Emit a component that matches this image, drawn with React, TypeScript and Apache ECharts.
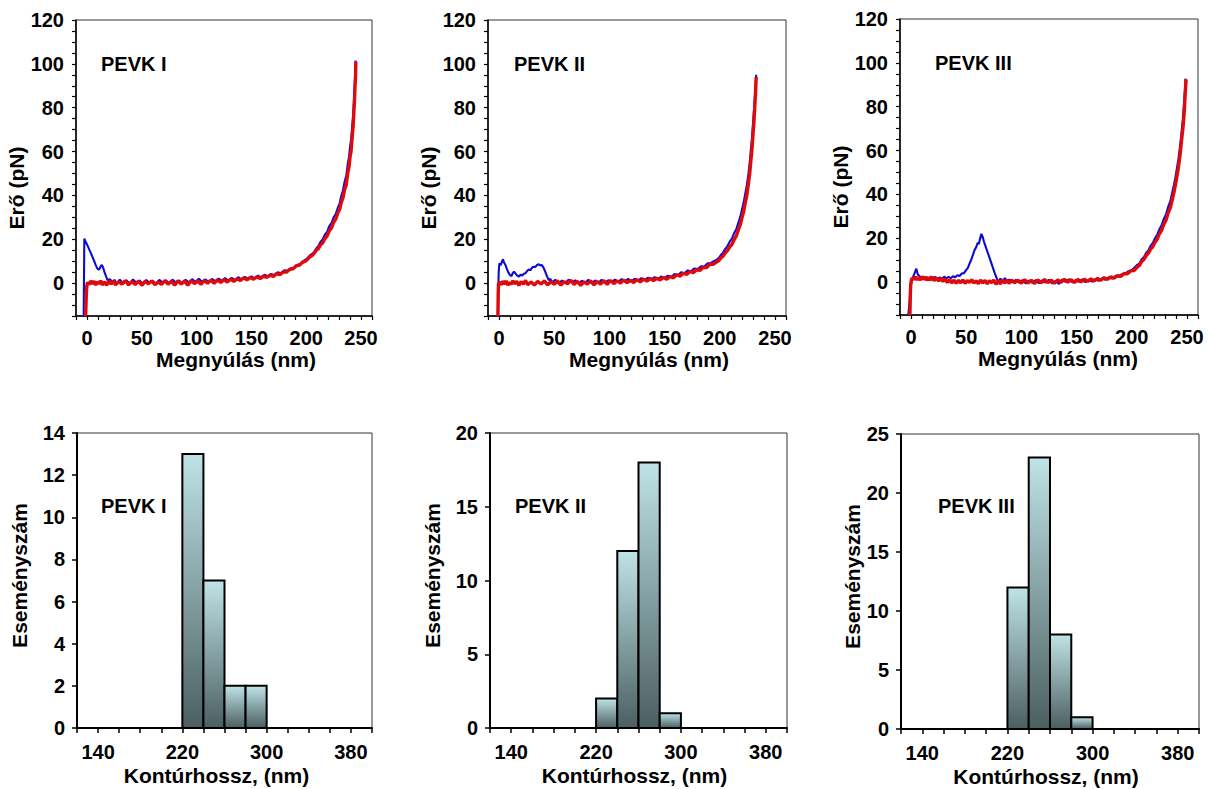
import React, { useEffect, useRef } from "react";
import * as echarts from "echarts";

// ---------------- DATA ----------------
const panelTitles = ["PEVK I", "PEVK II", "PEVK III"];

// Force–extension traces (x: nm, y: pN)
const pevk1Blue: number[][] = [
  [-3, -15], [-2.7, 2], [-2.4, 20.3], [-1, 18.6], [0.5, 17.2], [2, 15.4], [3.5, 13.8], [5, 12], [6.5, 10.1], [8, 8.2],
  [9.5, 6.6], [11, 6.1], [12.5, 7.6], [13.5, 8.3], [14.5, 7.4], [16, 5], [17.5, 3], [19, 1.2], [21, 1.8], [23, 0.3],
  [25, 1.5], [27, -0.2], [30, 1.6], [33, 0], [36, 1.3], [39, -0.3], [42, 1.7], [45, 0.2], [48, 1.2], [51, -0.4],
  [54, 1.4], [57, 0.1], [60, 1.1], [63, -0.3], [66, 1.5], [69, 0.2], [72, 1.3], [75, -0.2], [78, 1.6], [81, 0.3],
  [84, 1.2], [87, -0.1], [90, 1.5], [93, 0.4], [96, 1.8], [99, 0.5], [102, 2], [105, 0.6], [108, 1.7], [111, 0.5],
  [114, 1.9], [117, 0.8], [120, 2.1], [123, 1], [126, 2.3], [129, 1.1], [132, 2.4], [135, 1.4], [138, 2.7], [141, 1.6],
  [144, 2.9], [147, 1.9], [150, 3.1], [153, 2.2], [156, 3.4], [159, 2.6], [162, 3.8], [165, 3], [168, 4.2], [171, 3.6],
  [174, 4.9], [177, 4.5], [180, 5.8], [183, 5.6], [186, 6.8], [189, 7], [192, 8.3], [195, 8.9], [198, 10.3], [201, 11.3],
  [204, 12.9], [207, 13.9], [209, 15.7], [211, 16.8], [213, 18.8], [215, 19.9], [217, 22.1], [219, 23.3], [221, 26], [223, 27.3],
  [225, 30], [227, 31.6], [229, 34.6], [230.5, 36.4], [232, 39.8], [233.5, 42.2], [235, 46.2], [236.5, 48.9], [238, 54.6], [239, 57.4],
  [240, 62.4], [241, 65.6], [242, 72], [242.8, 76.5], [243.5, 83], [244, 87.6], [244.5, 94], [245, 101.5],
];
const pevk1Red: number[][] = [
  [-1.2, -15], [-0.7, -7], [-0.2, -1.5], [0.5, 0.4], [2, -0.7], [3.5, 1], [5, -0.4], [6.5, 0.9], [8, -0.9], [9.5, 0.6],
  [11, -0.3], [12.5, 1.1], [14, -0.8], [16, 0.5], [18, -1], [20, 0.9], [22, -0.4], [24, 1], [26, -0.8], [29, 0.6],
  [32, -0.5], [35, 1.1], [38, -0.8], [41, 0.7], [44, -0.6], [47, 0.9], [50, -1], [53, 0.8], [56, -0.3], [59, 1],
  [62, -0.7], [65, 0.5], [68, -0.6], [71, 1.1], [74, -0.5], [77, 0.8], [80, -0.9], [83, 1], [86, -0.4], [89, 0.9],
  [92, -1], [95, 1.1], [98, -0.2], [101, 1], [104, -0.6], [107, 1.2], [110, 0], [113, 1.3], [116, -0.1], [119, 1.4],
  [122, 0.3], [125, 1.6], [128, 0.5], [131, 1.8], [134, 0.8], [137, 2], [140, 1.2], [143, 2.4], [146, 1.5], [149, 2.6],
  [152, 1.8], [155, 2.9], [158, 2.1], [161, 3.2], [164, 2.6], [167, 3.6], [170, 3.1], [173, 4.3], [176, 3.9], [179, 5.1],
  [182, 5], [185, 6.3], [188, 6.5], [191, 7.9], [194, 8.2], [197, 9.6], [200, 10.2], [203, 11.9], [206, 12.8], [209, 14.9],
  [211, 15.6], [213, 17.4], [215, 18.3], [217, 20.3], [219, 21.4], [221, 23.8], [223, 25.1], [225, 27.8], [227, 29.2], [229, 32.2],
  [230.5, 33.6], [232, 36.8], [233.5, 38.9], [235, 42.6], [236.5, 44.8], [238, 50.5], [239, 52.8], [240, 57.6], [241, 60.4], [242, 67.2],
  [242.8, 71.5], [243.5, 78.4], [244, 82.6], [244.5, 89.5], [245, 94.2], [245.3, 101],
];

const pevk2Blue: number[][] = [
  [-1, -15], [-0.7, -4], [-0.3, 5], [0.3, 9], [1.5, 8.2], [2.5, 9.6], [3.6, 10.9], [4.5, 9.4], [5.8, 8.3], [7, 6.6],
  [8.5, 4.8], [10, 3.6], [11.3, 3.2], [12.5, 4.6], [13.6, 5.2], [15, 4.3], [16.5, 3.4], [18, 3], [19.5, 3.8], [21, 3.5],
  [22.5, 4.3], [24, 4.5], [25.5, 5.6], [27, 6.2], [28.5, 5.9], [30, 7.1], [31.5, 7.5], [33, 7.4], [34.5, 8.3], [36, 8.6],
  [37.5, 8.1], [39, 8.2], [40.5, 6.8], [42, 5], [43.5, 3.1], [45, 1.4], [46.5, 1.9], [48, 0.4], [51, 1.5], [54, -0.2],
  [57, 1.2], [60, 0], [63, 1.6], [66, 0.2], [69, 1.3], [72, -0.3], [75, 1.1], [78, 0.1], [81, 1.5], [84, -0.1],
  [87, 1.2], [90, 0.2], [93, 1.5], [96, 0.1], [99, 1.3], [102, 0.4], [105, 1.6], [108, 0.5], [111, 1.8], [114, 0.7],
  [117, 1.9], [120, 0.9], [123, 2], [126, 1.1], [129, 2.3], [132, 1.3], [135, 2.5], [138, 1.6], [141, 2.7], [144, 1.8],
  [147, 3], [150, 2.2], [153, 3.4], [156, 2.7], [159, 4.2], [162, 3.6], [165, 5], [168, 4.5], [171, 5.8], [174, 5.4],
  [177, 6.7], [180, 6.4], [183, 7.7], [186, 7.6], [189, 9], [192, 9.2], [195, 10.1], [197, 10.6], [199, 11.4], [201, 12.8],
  [203, 13.9], [205, 15.6], [207, 16.9], [209, 18.9], [211, 20.3], [213, 22.8], [215, 24.6], [217, 27.8], [218.5, 30.1], [220, 33.4],
  [221.5, 36.5], [223, 40.6], [224.5, 44.5], [226, 50], [227, 54.4], [228, 60], [229, 65], [230, 72], [231, 79], [231.8, 85],
  [232.5, 90], [233, 95],
];
const pevk2Red: number[][] = [
  [-1, -15], [-0.8, -6], [-0.5, -0.5], [0.5, 0.6], [2, -0.8], [3.5, 0.9], [5, -0.5], [6.5, 1], [8, -0.9], [9.5, 0.4],
  [11, -0.6], [12.5, 1.1], [14, -0.3], [16, 0.8], [18, -1], [20, 0.7], [22, -0.4], [24, 1.2], [26, -0.7], [29, 0.5],
  [32, -0.9], [35, 0.8], [38, -0.4], [41, 1], [44, -0.8], [47, 0.6], [50, -0.5], [53, 1], [56, -0.9], [59, 0.7],
  [62, -0.3], [65, 1.3], [68, -0.6], [71, 0.8], [74, -1], [77, 0.6], [80, -0.4], [83, 1], [86, -0.8], [89, 0.7],
  [92, -0.5], [95, 1.1], [98, -0.6], [101, 1.2], [104, -0.2], [107, 1], [110, 0], [113, 1.4], [116, 0.2], [119, 1.2],
  [122, 0.3], [125, 1.6], [128, 0.6], [131, 1.8], [134, 0.9], [137, 2.1], [140, 1.2], [143, 2.2], [146, 1.4], [149, 2.6],
  [152, 1.8], [155, 3], [158, 2.4], [161, 3.8], [164, 3.2], [167, 4.5], [170, 4], [173, 5.3], [176, 4.8], [179, 6.1],
  [182, 5.8], [185, 7.2], [188, 7.1], [191, 8.6], [194, 8.6], [197, 9.6], [199, 10.2], [201, 11.5], [203, 12.3], [205, 13.8],
  [207, 14.8], [209, 16.5], [211, 17.6], [213, 19.8], [215, 21.5], [217, 24.5], [218.5, 26.6], [220, 29.6], [221.5, 32.4], [223, 36.4],
  [224.5, 40], [226, 45.5], [227, 49.5], [228, 55], [229, 60], [230, 67], [231, 74], [231.8, 81], [232.5, 88], [233, 94],
];

const pevk3Blue: number[][] = [
  [-2.5, -15], [-1.5, -10], [-0.5, -3], [0.3, -0.5], [1.2, 1.5], [2.5, 3.2], [3.7, 4.6], [4.6, 6.1], [5.3, 5.2], [6.2, 3.4],
  [7.4, 2.9], [9, 1.6], [10.5, 2.4], [12, 1.2], [14, 2.3], [16, 1.4], [18, 2.6], [20, 1.5], [22, 2.4], [24, 1.3],
  [26, 2.2], [28, 1.4], [30, 2.5], [32, 1.6], [34, 2.4], [36, 1.8], [38, 2.7], [40, 2.2], [42, 3.1], [44, 2.8],
  [46, 3.9], [48, 4.1], [50, 5.6], [51.5, 6.5], [53, 8.4], [54.5, 10.2], [56, 12.3], [57.5, 14.6], [59, 15.9], [60.5, 18],
  [61.5, 17.4], [62.5, 19.8], [63.7, 22], [64.5, 21.2], [66, 18.6], [68, 15.6], [70, 12.7], [72, 9.8], [74, 6.8], [76, 3.9],
  [78, 1.2], [79.5, 0.2], [81, 1.6], [83, 0.5], [85, 1.8], [87, 0.3], [89, 1.2], [92, -0.2], [95, 1], [98, -0.3],
  [101, 0.9], [104, -0.6], [107, 0.7], [110, -0.4], [113, 0.9], [116, -0.5], [119, 0.8], [122, -0.2], [125, 1], [128, -0.6],
  [131, 0.6], [134, -0.8], [137, 1.2], [140, 0.1], [143, 1.3], [146, -0.1], [149, 0.9], [152, 0.2], [155, 1.2], [158, 0],
  [161, 1], [164, 0.2], [167, 1.4], [170, 0.6], [173, 1.7], [176, 1], [179, 2.2], [182, 1.6], [185, 2.8], [188, 2.5],
  [191, 3.6], [194, 3.7], [197, 5], [200, 5.4], [203, 6.9], [205, 7.9], [207, 8.6], [209, 10.4], [211, 11.4], [213, 13.3],
  [215, 14.4], [217, 16.5], [219, 17.8], [221, 20], [223, 21.6], [225, 24.1], [227, 25.9], [229, 28.8], [231, 30.9], [233, 34.4],
  [235, 37], [236.5, 40.4], [238, 43.8], [239.5, 47.7], [241, 52.2], [242.3, 56.3], [243.5, 61], [244.5, 65.5], [245.5, 70.5], [246.3, 74.5],
  [247, 79], [247.7, 84], [248.3, 89], [248.7, 92.8],
];
const pevk3Red: number[][] = [
  [-1, -15], [-0.7, -7], [-0.3, -1], [0.3, 0.8], [1, 1.9], [2.5, 1.1], [4, 2.4], [5.5, 1], [7, 2.2], [8.5, 0.9],
  [10, 2.6], [11.5, 1.2], [13, 2.3], [14.5, 0.8], [16, 2.1], [17.5, 0.9], [19, 2.4], [21, 0.7], [23, 1.9], [25, 0.5],
  [27, 1.8], [29, 0.3], [31, 1.5], [33, -0.2], [35, 1.1], [37, -0.4], [39, 0.9], [41, -0.5], [43, 0.8], [45, -0.3],
  [47, 1], [49, -0.6], [51, 0.7], [53, -0.2], [55, 1.1], [57, -0.5], [59, 0.6], [61, -0.7], [63, 0.9], [65, -0.4],
  [67, 0.8], [69, -0.8], [71, 0.6], [73, -0.3], [75, 0.9], [77, -1], [79, 0.7], [81, -0.9], [83, 1.1], [85, -0.4],
  [87, 0.8], [89, -0.6], [91, 1], [94, -0.3], [97, 0.9], [100, -0.5], [103, 1.1], [106, -0.4], [109, 0.8], [112, -0.6],
  [115, 1], [118, -0.3], [121, 1.2], [124, -0.2], [127, 0.9], [130, -0.5], [133, 1], [136, -0.1], [139, 1.3], [142, 0],
  [145, 1.1], [148, -0.2], [151, 1.2], [154, 0.1], [157, 1.3], [160, 0.3], [163, 1.5], [166, 0.5], [169, 1.7], [172, 0.9],
  [175, 2], [178, 1.3], [181, 2.4], [184, 1.8], [187, 3], [190, 2.6], [193, 3.9], [196, 3.8], [199, 5.1], [202, 5.3],
  [205, 6.9], [207, 7.6], [209, 9.4], [211, 10.3], [213, 12.1], [215, 13.1], [217, 15], [219, 16.1], [221, 18.2], [223, 19.6],
  [225, 22], [227, 23.6], [229, 26.3], [231, 28.2], [233, 31.6], [235, 34], [236.5, 37.2], [238, 40.5], [239.5, 44.2], [241, 48.5],
  [242.3, 52.5], [243.5, 57], [244.5, 61.5], [245.5, 66.5], [246.3, 70], [247, 74], [247.7, 79], [248.3, 85], [248.8, 89], [249.2, 92.5],
];

const blueTraces = [pevk1Blue, pevk2Blue, pevk3Blue];
const redTraces = [pevk1Red, pevk2Red, pevk3Red];

// Histograms: contour length bins (nm) and event counts
const binStarts = [220, 240, 260, 280];
const binEnds = [240, 260, 280, 300];
const countsPevk1 = [13, 7, 2, 2];
const countsPevk2 = [2, 12, 18, 1];
const countsPevk3 = [12, 23, 8, 1];
const histCounts = [countsPevk1, countsPevk2, countsPevk3];
const histYMax = [14, 20, 25];
const histYStep = [2, 5, 5];

// Axis tick labels
const forceXLabels = [0, 50, 100, 150, 200, 250];
const forceYLabels = [0, 20, 40, 60, 80, 100, 120];
const lengthXLabels = [140, 220, 300, 380];

// ---------------- LAYOUT ----------------
const FONT = '"Liberation Sans", Arial, Helvetica, sans-serif';
const topGrids = [
  { left: 76, top: 20, width: 296, height: 296 },
  { left: 488, top: 20, width: 298, height: 296 },
  { left: 900, top: 19, width: 298, height: 296 },
];
const bottomGrids = [
  { left: 77, top: 433, width: 295, height: 295 },
  { left: 490, top: 433, width: 297, height: 295 },
  { left: 901, top: 434, width: 298, height: 295 },
];
const topYNameGap = [45, 41, 38];
const topXShift = [12, 12, 9];
const botYNameGap = [47, 47, 38];
const botXShift = [-8, -4, -4];
const topLabelPos = [[101, 64], [514, 64], [935, 63]];
const botLabelPos = [[101, 506], [515, 506], [938, 506]];

const BLUE = "#0b0bd4";
const RED = "#e00a0a";

function shiftPad(s: number): number[] {
  return s >= 0 ? [0, 0, 0, 2 * s] : [0, -2 * s, 0, 0];
}

function buildOption(): any {
  const grid: any[] = [];
  const xAxis: any[] = [];
  const yAxis: any[] = [];
  const series: any[] = [];
  const graphic: any[] = [];

  const labelStyle = { fontFamily: FONT, fontWeight: "bold", fontSize: 20, color: "#000" };
  const nameStyle = { fontFamily: FONT, fontWeight: "bold", fontSize: 21, color: "#000" };

  // top row
  for (let i = 0; i < 3; i++) {
    grid.push({ ...topGrids[i], show: true, borderColor: "#333", borderWidth: 1, backgroundColor: "transparent" });
    xAxis.push({
      type: "value", gridIndex: i, min: -10, max: 260, interval: 10,
      axisLine: { show: true, onZero: false, lineStyle: { color: "#000", width: 1.5 } },
      axisTick: { show: true, length: 4, lineStyle: { color: "#000", width: 1.2 } },
      splitLine: { show: false },
      axisLabel: { ...labelStyle, margin: 12, formatter: (v: number) => (forceXLabels.includes(v) ? String(v) : "") },
      name: "Megnyúlás (nm)", nameLocation: "middle", nameGap: 31,
      nameTextStyle: { ...nameStyle, padding: shiftPad(topXShift[i]) },
    });
    yAxis.push({
      type: "value", gridIndex: i, min: -15, max: 120, interval: 5,
      axisLine: { show: true, onZero: false, lineStyle: { color: "#000", width: 1.5 } },
      axisTick: { show: true, length: 4, lineStyle: { color: "#000", width: 1.2 } },
      splitLine: { show: false },
      axisLabel: { ...labelStyle, margin: 12, formatter: (v: number) => (forceYLabels.includes(v) ? String(v) : "") },
      name: "Erő (pN)", nameLocation: "middle", nameGap: topYNameGap[i],
      nameTextStyle: { ...nameStyle, padding: [0, 40, 0, 0] },
    });
    series.push({
      type: "line", xAxisIndex: i, yAxisIndex: i, data: blueTraces[i], showSymbol: false, symbol: "none",
      lineStyle: { color: BLUE, width: 2.1 }, z: 2, silent: true,
    });
    series.push({
      type: "line", xAxisIndex: i, yAxisIndex: i, data: redTraces[i], showSymbol: false, symbol: "none",
      lineStyle: { color: RED, width: 3.4 }, z: 3, silent: true,
    });
    graphic.push({
      type: "text", x: topLabelPos[i][0], y: topLabelPos[i][1], z: 10,
      style: { text: panelTitles[i], font: `bold 20px ${FONT}`, fill: "#000", verticalAlign: "middle", align: "left" },
    });
  }

  // bottom row
  for (let i = 0; i < 3; i++) {
    const gi = 3 + i;
    grid.push({ ...bottomGrids[i], show: true, borderColor: "#333", borderWidth: 1, backgroundColor: "transparent" });
    xAxis.push({
      type: "value", gridIndex: gi, min: 120, max: 400, interval: 20,
      axisLine: { show: true, onZero: false, lineStyle: { color: "#000", width: 2 } },
      axisTick: { show: true, length: 5, lineStyle: { color: "#000", width: 1.5 } },
      splitLine: { show: false },
      axisLabel: { ...labelStyle, margin: 14, formatter: (v: number) => (lengthXLabels.includes(v) ? String(v) : "") },
      name: "Kontúrhossz, (nm)", nameLocation: "middle", nameGap: 37,
      nameTextStyle: { ...nameStyle, padding: shiftPad(botXShift[i]) },
    });
    yAxis.push({
      type: "value", gridIndex: gi, min: 0, max: histYMax[i], interval: histYStep[i],
      axisLine: { show: true, onZero: false, lineStyle: { color: "#000", width: 2 } },
      axisTick: { show: true, length: 5, lineStyle: { color: "#000", width: 1.5 } },
      splitLine: { show: false },
      axisLabel: { ...labelStyle, margin: 12 },
      name: "Eseményszám", nameLocation: "middle", nameGap: botYNameGap[i],
      nameTextStyle: { ...nameStyle, padding: [0, 0, 0, 10] },
    });
    const data = binStarts.map((s, k) => [s, binEnds[k], histCounts[i][k]]);
    series.push({
      type: "custom", xAxisIndex: gi, yAxisIndex: gi, data, silent: true,
      encode: { x: [0, 1], y: 2 },
      renderItem: (_p: any, api: any) => {
        const tl = api.coord([api.value(0), api.value(2)]);
        const br = api.coord([api.value(1), 0]);
        return {
          type: "rect",
          shape: { x: tl[0], y: tl[1], width: br[0] - tl[0], height: br[1] - tl[1] },
          style: {
            fill: new echarts.graphic.LinearGradient(0, 0, 0, 1, [
              { offset: 0, color: "#bfe3e6" },
              { offset: 1, color: "#4b5f61" },
            ]),
            stroke: "#000",
            lineWidth: 2,
          },
        };
      },
    });
    graphic.push({
      type: "text", x: botLabelPos[i][0], y: botLabelPos[i][1], z: 10,
      style: { text: panelTitles[i], font: `bold 20px ${FONT}`, fill: "#000", verticalAlign: "middle", align: "left" },
    });
  }

  return { animation: false, backgroundColor: "#fff", grid, xAxis, yAxis, series, graphic };
}

export default function App() {
  const ref = useRef<HTMLDivElement>(null);
  useEffect(() => {
    if (!ref.current) return;
    const chart = echarts.init(ref.current, undefined, { renderer: "svg" });
    chart.setOption(buildOption());
    return () => chart.dispose();
  }, []);
  return (
    <div
      ref={ref}
      style={{ position: "fixed", left: 0, top: 0, width: 1209, height: 789, background: "#fff" }}
    />
  );
}
